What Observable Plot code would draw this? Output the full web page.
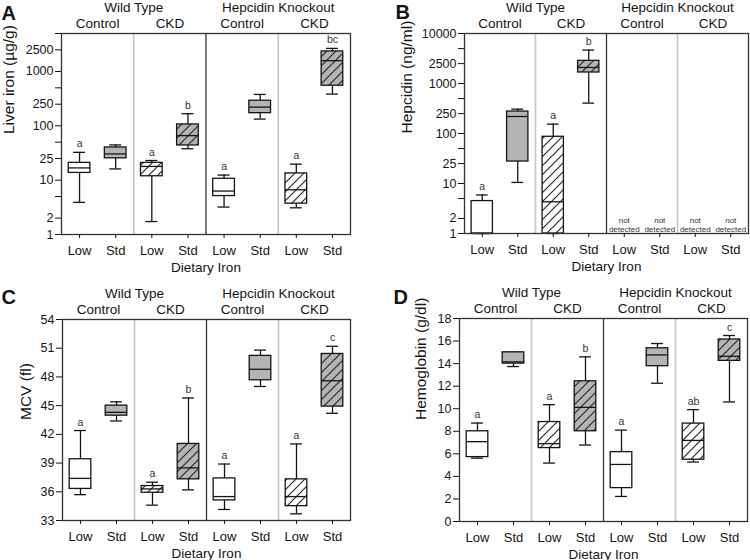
<!DOCTYPE html>
<html>
<head>
<meta charset="utf-8">
<script src="https://cdn.jsdelivr.net/npm/d3@7"></script>
<script src="https://cdn.jsdelivr.net/npm/@observablehq/plot@0.6"></script>
<style>
  html, body { margin: 0; padding: 0; background: white; }
  #wrap { position: relative; width: 750px; height: 560px; background: white; overflow: hidden; }
  .panel { position: absolute; }
</style>
</head>
<body>
<div id="wrap"></div>
<script>
// ---- shared labels ----
const categories = ["Low", "Std", "Low", "Std", "Low", "Std", "Low", "Std"];
const genotypes = ["Wild Type", "Hepcidin Knockout"];
const treatments = ["Control", "CKD", "Control", "CKD"];
const xTitle = "Dietary Iron";
const hatchedIdx = [2, 3, 6, 7];

// ---- Panel A: Liver iron (µg/g), log scale ----
const liverTicks = [1, 2, 5, 10, 25, 50, 100, 250, 500, 1000, 2500, 5000];
const liverLo  = [3.9, 16.1, 1.73, 37.9, 3.2, 133, 3.1, 384];
const liverQ1  = [13.6, 25.2, 11.8, 43.5, 5.1, 171, 3.7, 547];
const liverMed = [16.8, 30.4, 17.9, 66, 6.3, 221, 6.65, 1580];
const liverQ3  = [20.8, 40, 20.8, 106, 10.6, 290, 13.3, 2340];
const liverHi  = [32.5, 44.5, 23, 167, 12.4, 378, 19.7, 2660];
const liverSig = ["a", "", "a", "b", "a", "", "a", "bc"];

// ---- Panel B: Hepcidin (ng/ml), log scale ----
const hepTicks = [1, 2, 5, 10, 25, 50, 100, 250, 500, 1000, 2500, 5000, 10000];
const hepLo  = [1, 10.5, 1, 405, null, null, null, null];
const hepQ1  = [1, 27.5, 1, 1660, null, null, null, null];
const hepMed = [1, 219, 4.3, 2090, null, null, null, null];
const hepQ3  = [4.45, 275, 86, 2840, null, null, null, null];
const hepHi  = [5.9, 307, 154, 4660, null, null, null, null];
const hepSig = ["a", "", "a", "b", "", "", "", ""];
const hepNote = ["", "", "", "", "not\ndetected", "not\ndetected", "not\ndetected", "not\ndetected"];

// ---- Panel C: MCV (fl) ----
const mcvTicks = [33, 36, 39, 42, 45, 48, 51, 54];
const mcvLo  = [35.7, 43.4, 34.6, 36.2, 34.15, 47.0, 33.7, 44.2];
const mcvQ1  = [36.3, 43.95, 35.9, 37.3, 35.1, 47.65, 34.5, 44.9];
const mcvMed = [37.4, 44.3, 36.3, 38.5, 35.5, 48.8, 35.5, 47.6];
const mcvQ3  = [39.4, 45.0, 36.6, 41.0, 37.4, 50.2, 37.3, 50.4];
const mcvHi  = [42.4, 45.4, 37.0, 45.8, 38.9, 50.8, 41.0, 51.2];
const mcvSig = ["a", "", "a", "b", "a", "", "a", "c"];

// ---- Panel D: Hemoglobin (g/dl) ----
const hbTicks = [0, 2, 4, 6, 8, 10, 12, 14, 16, 18];
const hbLo  = [5.62, 13.74, 5.18, 6.78, 2.22, 12.26, 5.27, 10.6];
const hbQ1  = [5.71, 14.0, 6.51, 8.0, 2.96, 13.77, 5.48, 14.24];
const hbMed = [7.08, 14.15, 6.9, 10.12, 5.06, 14.77, 7.19, 14.65];
const hbQ3  = [8.0, 15.0, 8.82, 12.43, 6.15, 15.36, 8.68, 16.14];
const hbHi  = [8.73, 15.0, 10.36, 14.6, 8.1, 15.78, 9.92, 16.49];
const hbSig = ["a", "", "a", "b", "a", "", "ab", "c"];

const FONT = "'Liberation Sans', Arial, Helvetica, sans-serif";
const GRAY = "#b4b4b4";
const INK = "#151515";
const BOXW = 0.30;  // half box width (category units)
const CAPW = 0.165; // half cap width

function defsMark() {
  return () => {
    const g = d3.create("svg:g");
    const p = g.append("defs").append("pattern")
      .attr("id", "hatch").attr("patternUnits", "userSpaceOnUse")
      .attr("width", 9).attr("height", 9);
    p.append("path")
      .attr("d", "M-1,1 l2,-2 M0,9 l9,-9 M8,10 l2,-2")
      .attr("stroke", "#222").attr("stroke-width", 1.1).attr("fill", "none");
    return g.node();
  };
}

function panel(cfg) {
  const rows = categories.map((c, i) => ({
    i, c, lo: cfg.lo[i], q1: cfg.q1[i], med: cfg.med[i], q3: cfg.q3[i], hi: cfg.hi[i],
    sig: cfg.sig[i], note: cfg.note ? cfg.note[i] : ""
  }));
  const boxes = rows.filter(d => d.q1 != null);
  const hatched = boxes.filter(d => hatchedIdx.includes(d.i));
  const cx = d => d.i + 0.5;
  const headersTop = [
    {x: 2, t: genotypes[0]}, {x: 6, t: genotypes[1]}
  ];
  const headersSub = treatments.map((t, k) => ({x: 2 * k + 1, t}));
  const tickPos = categories.map((c, i) => i + 0.5);

  const plot = Plot.plot({
    width: 375, height: 280,
    marginLeft: cfg.ml, marginRight: cfg.mr, marginTop: cfg.mt, marginBottom: cfg.mb,
    style: {fontFamily: FONT, background: "white", color: INK, overflow: "visible"},
    x: {type: "linear", domain: [0, 8], axis: null},
    y: Object.assign({axis: null}, cfg.yScale),
    marks: [
      defsMark(),
      Plot.ruleX([2, 6], {stroke: "#c4c4c4", strokeWidth: 1.6}),
      Plot.ruleX([4], {stroke: "#333", strokeWidth: 1.3}),
      // whiskers
      Plot.ruleX(boxes, {x: cx, y1: "q3", y2: "hi", stroke: INK, strokeWidth: 1.3}),
      Plot.ruleX(boxes, {x: cx, y1: "lo", y2: "q1", stroke: INK, strokeWidth: 1.3}),
      Plot.ruleY(boxes, {y: "hi", x1: d => cx(d) - CAPW, x2: d => cx(d) + CAPW, stroke: INK, strokeWidth: 1.3}),
      Plot.ruleY(boxes, {y: "lo", x1: d => cx(d) - CAPW, x2: d => cx(d) + CAPW, stroke: INK, strokeWidth: 1.3}),
      // box fill
      Plot.rect(boxes, {x1: d => cx(d) - BOXW, x2: d => cx(d) + BOXW, y1: "q1", y2: "q3",
        fill: d => d.i % 2 ? GRAY : "white"}),
      Plot.rect(hatched, {x1: d => cx(d) - BOXW, x2: d => cx(d) + BOXW, y1: "q1", y2: "q3",
        fill: "url(#hatch)"}),
      Plot.rect(boxes, {x1: d => cx(d) - BOXW, x2: d => cx(d) + BOXW, y1: "q1", y2: "q3",
        fill: "none", stroke: INK, strokeWidth: 1.3}),
      Plot.ruleY(boxes, {y: "med", x1: d => cx(d) - BOXW, x2: d => cx(d) + BOXW, stroke: INK, strokeWidth: 1.3}),
      // significance letters
      Plot.text(boxes.filter(d => d.sig), {x: cx, y: "hi", text: "sig", dy: -5, lineAnchor: "bottom",
        fontSize: 10.5, fill: "#333"}),
      // not detected notes
      Plot.text(rows.filter(d => d.note), {x: cx, frameAnchor: "bottom", text: "note", dy: -2,
        lineAnchor: "bottom", fontSize: 8, lineHeight: 1.1, fill: "#333"}),
      Plot.frame({stroke: "#333", strokeWidth: 1.3}),
      Plot.axisY({ticks: cfg.ticks, tickFormat: d => String(d), tickSize: 6, tickPadding: 2,
        fontSize: 12.5, label: null}),
      Plot.axisX({ticks: tickPos, tickFormat: d => categories[Math.floor(d)], tickSize: 4,
        tickPadding: 7, fontSize: 13, label: null}),
      // group headers
      Plot.text(headersTop, {x: "x", text: "t", frameAnchor: "top", dy: -22, lineAnchor: "bottom", fontSize: 13.5}),
      Plot.text(headersSub, {x: "x", text: "t", frameAnchor: "top", dy: -6, lineAnchor: "bottom", fontSize: 13.5}),
      // axis titles
      Plot.text([cfg.yTitle], {frameAnchor: "left", rotate: -90, dx: cfg.ytdx, lineAnchor: "bottom", fontSize: 15.5}),
      Plot.text([xTitle], {frameAnchor: "bottom", dy: 37, lineAnchor: "bottom", fontSize: 13.5}),
      // panel letter
      Plot.text([cfg.letter], {frameAnchor: "top-left", dx: cfg.ldx, dy: cfg.ldy, textAnchor: "start",
        lineAnchor: "bottom", fontSize: 20, fontWeight: "bold"})
    ]
  });
  const div = document.createElement("div");
  div.className = "panel";
  div.style.left = cfg.left + "px";
  div.style.top = cfg.top + "px";
  div.appendChild(plot);
  document.getElementById("wrap").appendChild(div);
}

panel({letter: "A", left: 0, top: 0, ml: 61, mr: 25, mt: 33, mb: 46,
  yScale: {type: "log", domain: [1, 5000]}, ticks: liverTicks,
  lo: liverLo, q1: liverQ1, med: liverMed, q3: liverQ3, hi: liverHi, sig: liverSig,
  yTitle: "Liver iron (µg/g)", ytdx: -48, ldx: -60, ldy: -14});

panel({letter: "B", left: 375, top: 0, ml: 89, mr: 2, mt: 33, mb: 47,
  yScale: {type: "log", domain: [1, 10000]}, ticks: hepTicks,
  lo: hepLo, q1: hepQ1, med: hepMed, q3: hepQ3, hi: hepHi, sig: hepSig, note: hepNote,
  yTitle: "Hepcidin (ng/ml)", ytdx: -53, ldx: -69, ldy: -15});

panel({letter: "C", left: 0, top: 280, ml: 62, mr: 25, mt: 39, mb: 40,
  yScale: {type: "linear", domain: [33, 54]}, ticks: mcvTicks,
  lo: mcvLo, q1: mcvQ1, med: mcvMed, q3: mcvQ3, hi: mcvHi, sig: mcvSig,
  yTitle: "MCV (fl)", ytdx: -32, ldx: -61, ldy: -16});

panel({letter: "D", left: 375, top: 280, ml: 84, mr: 3, mt: 38, mb: 39,
  yScale: {type: "linear", domain: [0, 18]}, ticks: hbTicks,
  lo: hbLo, q1: hbQ1, med: hbMed, q3: hbQ3, hi: hbHi, sig: hbSig,
  yTitle: "Hemoglobin (g/dl)", ytdx: -34, ldx: -66, ldy: -15});
</script>
</body>
</html>
